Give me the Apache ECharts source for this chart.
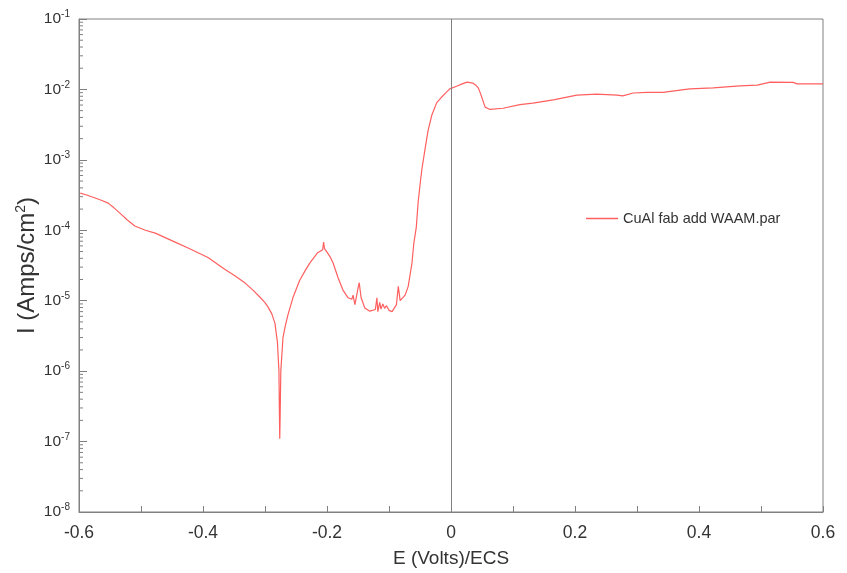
<!DOCTYPE html>
<html>
<head>
<meta charset="utf-8">
<script src="https://cdn.jsdelivr.net/npm/echarts@6/dist/echarts.min.js"></script>
<style>html,body{margin:0;padding:0;background:#fff;}#c{width:847px;height:573px;}</style>
</head>
<body>
<div id="c"></div>
<script>
const seriesName = 'CuAl fab add WAAM.par';
const potentialV = [
-0.598,-0.589,-0.575,-0.563,-0.553,-0.544,-0.534,-0.522,-0.510,-0.493,-0.477,-0.445,-0.424,-0.392,-0.365,-0.348,-0.332,-0.319,-0.308,-0.300,-0.295,-0.289,-0.284,-0.280,
-0.2775,-0.2768,-0.2762,-0.2755,-0.2745,-0.271,-0.267,-0.263,-0.255,-0.244,-0.235,-0.227,-0.215,-0.207,-0.2055,-0.204,-0.200,
-0.195,-0.190,-0.182,-0.174,-0.166,-0.160,-0.158,-0.155,-0.150,-0.148,-0.145,-0.139,-0.131,-0.122,-0.1195,-0.118,
-0.115,-0.113,-0.110,-0.107,-0.104,-0.100,-0.095,-0.088,-0.085,-0.082,-0.074,-0.069,-0.063,-0.060,-0.056,
-0.053,-0.050,-0.047,-0.042,-0.037,-0.031,-0.023,-0.015,-0.008,-0.002,0.010,0.018,0.026,0.035,0.040,0.044,0.047,0.050,0.055,0.063,
0.084,0.111,0.132,0.165,0.203,0.235,0.268,0.277,0.294,0.316,0.342,0.385,0.423,0.466,0.494,
0.515,0.552,0.558,0.600];
const currentA = [
3.37e-4,3.2e-4,2.9e-4,2.65e-4,2.43e-4,2.1e-4,1.75e-4,1.4e-4,1.15e-4,1.0e-4,9.1e-5,6.8e-5,5.6e-5,4.1e-5,2.8e-5,2.25e-5,1.78e-5,1.4e-5,1.12e-5,9.4e-6,8.1e-6,6.5e-6,4.8e-6,2.6e-6,
1.0e-6,2.8e-7,1.1e-7,2.5e-7,1.0e-6,3.0e-6,4.5e-6,6.3e-6,1.1e-5,1.95e-5,2.7e-5,3.5e-5,4.8e-5,5.3e-5,6.8e-5,5.5e-5,4.9e-5,
4.2e-5,3.4e-5,2.1e-5,1.4e-5,1.1e-5,1.05e-5,1.2e-5,8.8e-6,1.5e-5,1.8e-5,1.1e-5,7.9e-6,7.1e-6,7.5e-6,1.1e-5,7.0e-6,
9.5e-6,7.6e-6,9.0e-6,7.8e-6,8.5e-6,7.3e-6,7.0e-6,8.8e-6,1.6e-5,1.0e-5,1.2e-5,1.6e-5,3.4e-5,6.5e-5,1.1e-4,
2.5e-4,4.4e-4,7.3e-4,1.4e-3,2.6e-3,4.3e-3,6.5e-3,7.8e-3,9.0e-3,1.02e-2,1.12e-2,1.2e-2,1.27e-2,1.23e-2,1.15e-2,1.05e-2,9.0e-3,7.6e-3,5.6e-3,5.2e-3,
5.4e-3,6.1e-3,6.4e-3,7.1e-3,8.3e-3,8.6e-3,8.3e-3,8.1e-3,8.9e-3,9.1e-3,9.1e-3,1.02e-2,1.05e-2,1.12e-2,1.15e-2,
1.27e-2,1.26e-2,1.2e-2,1.2e-2];
const xMin = -0.6, xMax = 0.6, xStep = 0.2;
const yMin = 1e-8, yMax = 1e-1;

const lineData = potentialV.map((e, i) => [e, currentA[i]]);
const minorVals = [];
for (let n = -8; n < -1; n++) for (let k = 2; k <= 9; k++) minorVals.push([xMin, k * Math.pow(10, n)]);

const chart = echarts.init(document.getElementById('c'));
const font = 'Liberation Sans, Arial, sans-serif';
chart.setOption({
  animation: false,
  backgroundColor: '#fff',
  grid: { left: 79, right: 24, top: 19, bottom: 61, show: true, borderColor: '#808080', borderWidth: 1 },
  legend: {
    left: 581, top: 206, icon: 'rect', itemWidth: 32, itemHeight: 1.5, itemGap: 8,
    data: [seriesName],
    textStyle: { fontFamily: font, fontSize: 14.5, color: '#333' }
  },
  xAxis: {
    type: 'value', min: xMin, max: xMax, interval: xStep,
    name: 'E (Volts)/ECS', nameLocation: 'middle', nameGap: 37, nameMoveOverlap: false,
    nameTextStyle: { fontFamily: font, fontSize: 19, color: '#333' },
    axisLine: { show: true, onZero: false, lineStyle: { color: '#808080' } },
    axisTick: { show: true, inside: true, length: 6, lineStyle: { color: '#808080' } },
    minorTick: { show: true, splitNumber: 2, length: 6, lineStyle: { color: '#808080' } },
    splitLine: { show: false },
    axisLabel: { fontFamily: font, fontSize: 17.5, color: '#333', margin: 12,
      formatter: v => (Math.abs(v) < 1e-9 ? '0' : String(Math.round(v * 10) / 10)) }
  },
  yAxis: {
    type: 'log', logBase: 10, min: yMin, max: yMax,
    name: 'I (Amps/cm{sup|2})', nameLocation: 'middle', nameGap: 39, nameMoveOverlap: false,
    nameTextStyle: { fontFamily: font, fontSize: 24, color: '#333',
      rich: { sup: { fontFamily: font, fontSize: 14, color: '#333', padding: [0, 0, 12, 0] } } },
    axisLine: { show: true, onZero: false, lineStyle: { color: '#808080' } },
    axisTick: { show: true, inside: true, length: 8, lineStyle: { color: '#808080' } },
    splitLine: { show: false },
    axisLabel: { fontFamily: font, fontSize: 15.5, color: '#333', margin: 9,
      formatter: v => '{b|10}{s|' + Math.round(Math.log10(v)) + '}',
      rich: { b: { fontFamily: font, fontSize: 15.5, color: '#333' },
              s: { fontFamily: font, fontSize: 10, color: '#333', padding: [0, 0, 9, 0] } } }
  },
  series: [
    {
      name: seriesName, type: 'line', data: lineData, showSymbol: false, symbol: 'none',
      lineStyle: { color: '#ff5f5f', width: 1.2 }, itemStyle: { color: '#ff5f5f' },
      markLine: { silent: true, symbol: 'none', label: { show: false },
        lineStyle: { color: '#808080', type: 'solid', width: 1 }, data: [{ xAxis: 0 }] },
      z: 3
    },
    {
      type: 'custom', coordinateSystem: 'cartesian2d', data: minorVals, silent: true, clip: false,
      renderItem: (params, api) => {
        const p = api.coord([api.value(0), api.value(1)]);
        return { type: 'line', shape: { x1: p[0], y1: p[1], x2: p[0] + 4, y2: p[1] },
          style: { stroke: '#808080', lineWidth: 1 } };
      }
    }
  ]
});
</script>
</body>
</html>
